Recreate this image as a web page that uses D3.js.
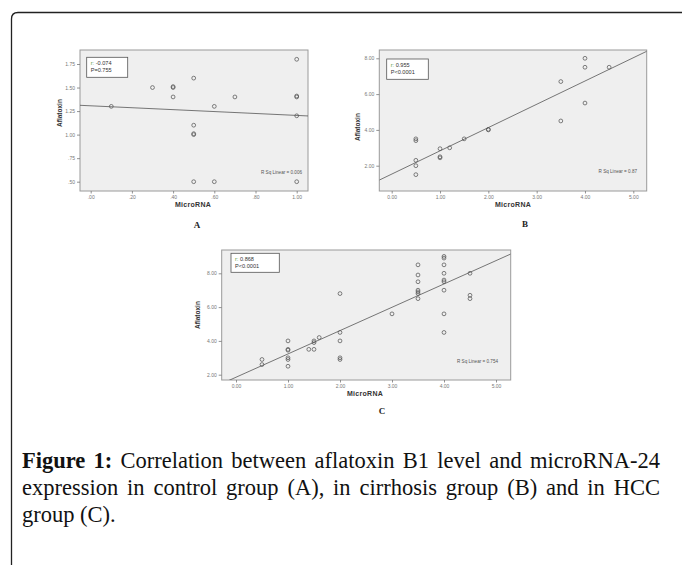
<!DOCTYPE html>
<html><head><meta charset="utf-8">
<script src="https://cdn.jsdelivr.net/npm/d3@7"></script>
<style>
html,body{margin:0;padding:0;background:#fff;}
#wrap{position:relative;width:682px;height:565px;overflow:hidden;}
svg{position:absolute;left:0;top:0;}
.cap{position:absolute;left:22px;width:638px;font-family:"Liberation Serif","Times New Roman",serif;font-size:20px;line-height:24px;color:#111;white-space:nowrap;}
.cap.j{text-align:justify;text-align-last:justify;}
.cap b{font-weight:bold;}
#meas{position:absolute;visibility:hidden;white-space:nowrap;font-family:"Liberation Serif","Times New Roman",serif;font-size:20px;}
</style></head><body>
<div id="wrap"><svg id="chart" width="682" height="565"></svg>
<div class="cap j" style="top:449px;"><b>Figure 1:</b> Correlation between aflatoxin B1 level and microRNA-24</div>
<div class="cap j" style="top:476px;">expression in control group (A), in cirrhosis group (B) and in HCC</div>
<div class="cap" style="top:503px;">group (C).</div>
<span id="meas"><b>Figure 1:</b> Correlation between aflatoxin B1 level and microRNA-24</span>
</div>
<script>
// ---- data ----
const aMicro = [1.0, 0.5, 0.3, 0.4, 0.4, 0.4, 0.7, 1.0, 1.0, 0.1, 0.6, 1.0, 0.5, 0.5, 0.5, 0.5, 0.6, 1.0];
const aAfla  = [1.8, 1.6, 1.5, 1.5, 1.51, 1.4, 1.4, 1.4, 1.41, 1.3, 1.3, 1.2, 1.1, 1.0, 1.01, 0.5, 0.5, 0.5];
const aFit = [1.306, -0.102];
const aStats = ["r: -0.074", "P=0.755", "R Sq Linear = 0.006"];
const aXTicks = [0, 0.2, 0.4, 0.6, 0.8, 1.0];
const aYTicks = [0.5, 0.75, 1.0, 1.25, 1.5, 1.75];

const bMicro = [4.0, 4.0, 4.5, 3.5, 4.0, 3.5, 2.0, 2.0, 1.5, 1.2, 1.0, 1.0, 1.0, 0.5, 0.5, 0.5, 0.5, 0.5];
const bAfla  = [8.0, 7.5, 7.5, 6.7, 5.5, 4.5, 4.0, 4.03, 3.5, 3.0, 2.95, 2.5, 2.44, 3.5, 3.4, 2.3, 2.0, 1.5];
const bFit = [1.53, 1.30];
const bStats = ["r: 0.955", "P<0.0001", "R Sq Linear = 0.87"];
const bXTicks = [0, 1, 2, 3, 4, 5];
const bYTicks = [2, 4, 6, 8];

const cMicro = [0.5, 0.5, 1.0, 1.0, 1.0, 1.0, 1.0, 1.0, 1.4, 1.5, 1.5, 1.5, 1.6, 2.0, 2.0, 2.0, 2.0, 2.0, 3.0,
  3.5, 3.5, 3.5, 3.5, 3.5, 3.5, 3.5, 4.0, 4.0, 4.0, 4.0, 4.0, 4.0, 4.0, 4.0, 4.0, 4.5, 4.5, 4.5];
const cAfla  = [2.9, 2.6, 4.0, 3.5, 3.45, 3.0, 2.9, 2.5, 3.5, 3.5, 4.0, 3.9, 4.2, 6.8, 4.5, 4.0, 3.0, 2.9, 5.6,
  8.5, 7.9, 7.5, 7.0, 6.9, 6.8, 6.5, 9.0, 8.9, 8.5, 8.0, 7.6, 7.5, 7.0, 5.6, 4.5, 8.0, 6.7, 6.5];
const cFit = [1.85, 1.38];
const cStats = ["r: 0.868", "P<0.0001", "R Sq Linear = 0.754"];
const cXTicks = [0, 1, 2, 3, 4, 5];
const cYTicks = [2, 4, 6, 8];

const xTitle = "MicroRNA", yTitle = "Aflatoxin";

// ---- caption sizing ----
(function () {
  const m = document.getElementById("meas");
  const w = m.getBoundingClientRect().width;
  const fs = Math.min(22.5, 20 * 634 / w);
  document.querySelectorAll(".cap").forEach(el => el.style.fontSize = fs + "px");
  m.remove();
})();

// ---- drawing ----
const svg = d3.select("#chart");
svg.append("path")
  .attr("d", "M11.5,570 V19 Q11.5,12.5 18,12.5 H690")
  .attr("fill", "none").attr("stroke", "#222").attr("stroke-width", 1.3);

const fmtA = v => d3.format(".2f")(v).replace(/^0\./, ".");
const fmtB = d3.format(".2f");

function panel(cfg) {
  const {id, xs, ys, fit, stats, xt, yt, fmt, frame, xPix, yPix, legend, rsq, ylab, xlab, letter} = cfg;
  const x = d3.scaleLinear().domain([xt[0], xt[xt.length-1]]).range(xPix);
  const y = d3.scaleLinear().domain([yt[0], yt[yt.length-1]]).range(yPix);
  const [fx0, fy0, fx1, fy1] = frame;
  const g = svg.append("g");
  g.append("rect").attr("x", fx0).attr("y", fy0).attr("width", fx1-fx0).attr("height", fy1-fy0)
    .attr("fill", "#efefef").attr("stroke", "#9a9a9a").attr("stroke-width", 1);
  g.append("clipPath").attr("id", "clip"+id).append("rect")
    .attr("x", fx0).attr("y", fy0).attr("width", fx1-fx0).attr("height", fy1-fy0);

  const ax = g.append("g").attr("transform", `translate(0,${fy1})`)
    .call(d3.axisBottom(x).tickValues(xt).tickFormat(fmt).tickSize(2.5).tickPadding(1.5));
  const ay = g.append("g").attr("transform", `translate(${fx0},0)`)
    .call(d3.axisLeft(y).tickValues(yt).tickFormat(fmt).tickSize(3).tickPadding(2));
  [ax, ay].forEach(a => {
    a.select(".domain").remove();
    a.selectAll("line").attr("stroke", "#777").attr("stroke-width", 0.8);
    a.selectAll("text").attr("fill", "#777").attr("font-size", 5).attr("font-family", "Liberation Sans, Arial, sans-serif");
  });

  const xd0 = x.invert(fx0), xd1 = x.invert(fx1);
  g.append("line").attr("clip-path", `url(#clip${id})`)
    .attr("x1", x(xd0)).attr("y1", y(fit[0] + fit[1]*xd0))
    .attr("x2", x(xd1)).attr("y2", y(fit[0] + fit[1]*xd1))
    .attr("stroke", "#555").attr("stroke-width", 0.8);

  g.selectAll("circle.pt").data(xs.map((v, i) => [v, ys[i]])).enter().append("circle")
    .attr("class", "pt").attr("cx", d => x(d[0])).attr("cy", d => y(d[1])).attr("r", 1.9)
    .attr("fill", "none").attr("stroke", "#555").attr("stroke-width", 0.75);

  const [lx0, ly0, lx1, ly1] = legend;
  g.append("rect").attr("x", lx0).attr("y", ly0).attr("width", lx1-lx0).attr("height", ly1-ly0)
    .attr("fill", "#fff").attr("stroke", "#555").attr("stroke-width", 0.8);
  const lt = g.append("text").attr("x", lx0+4).attr("y", ly0+7.5)
    .attr("font-size", 5.6).attr("font-family", "Liberation Sans, Arial, sans-serif").attr("fill", "#333");
  lt.append("tspan").attr("fill", "#5a9a3a").text(stats[0].slice(0, 2));
  lt.append("tspan").text(stats[0].slice(2));
  g.append("text").attr("x", lx0+4).attr("y", ly0+14.5)
    .attr("font-size", 5.6).attr("font-family", "Liberation Sans, Arial, sans-serif").attr("fill", "#333")
    .text(stats[1]);
  g.append("text").attr("x", rsq[0]).attr("y", rsq[1]).attr("text-anchor", "end")
    .attr("font-size", 4.6).attr("font-family", "Liberation Sans, Arial, sans-serif").attr("fill", "#555")
    .text(stats[2]);

  g.append("text").attr("transform", `translate(${ylab[0]},${ylab[1]}) rotate(-90)`)
    .attr("text-anchor", "middle").attr("font-size", 6.5).attr("font-weight", "bold")
    .attr("font-family", "Liberation Sans, Arial, sans-serif").attr("fill", "#333").text(yTitle);
  g.append("text").attr("x", xlab[0]).attr("y", xlab[1]).attr("text-anchor", "middle")
    .attr("font-size", 7).attr("font-weight", "bold").attr("letter-spacing", 0.3)
    .attr("font-family", "Liberation Sans, Arial, sans-serif").attr("fill", "#333").text(xTitle);
  g.append("text").attr("x", letter[0]).attr("y", letter[1]).attr("text-anchor", "middle")
    .attr("font-size", 9).attr("font-weight", "bold")
    .attr("font-family", "Liberation Serif, serif").attr("fill", "#222").text(id);
}

panel({id: "A", xs: aMicro, ys: aAfla, fit: aFit, stats: aStats, xt: aXTicks, yt: aYTicks, fmt: fmtA,
  frame: [80, 50, 308, 191], xPix: [90.7, 296.7], yPix: [181.7, 64],
  legend: [86.7, 57.3, 127.7, 77.3], rsq: [302, 174], ylab: [62, 113], xlab: [193, 207], letter: [197, 228]});
panel({id: "B", xs: bMicro, ys: bAfla, fit: bFit, stats: bStats, xt: bXTicks, yt: bYTicks, fmt: fmtB,
  frame: [379.3, 50, 646.7, 191], xPix: [391.7, 633.3], yPix: [165.7, 58.3],
  legend: [386.7, 59, 428.3, 79.3], rsq: [637, 172.5], ylab: [360, 127], xlab: [513, 206.5], letter: [525, 227]});
panel({id: "C", xs: cMicro, ys: cAfla, fit: cFit, stats: cStats, xt: cXTicks, yt: cYTicks, fmt: fmtB,
  frame: [221.7, 250, 510.7, 380], xPix: [236, 496], yPix: [374.7, 273.3],
  legend: [231, 253.3, 279.3, 272.3], rsq: [498, 362.5], ylab: [200, 315], xlab: [365, 396], letter: [382, 414]});
</script>
</body></html>
